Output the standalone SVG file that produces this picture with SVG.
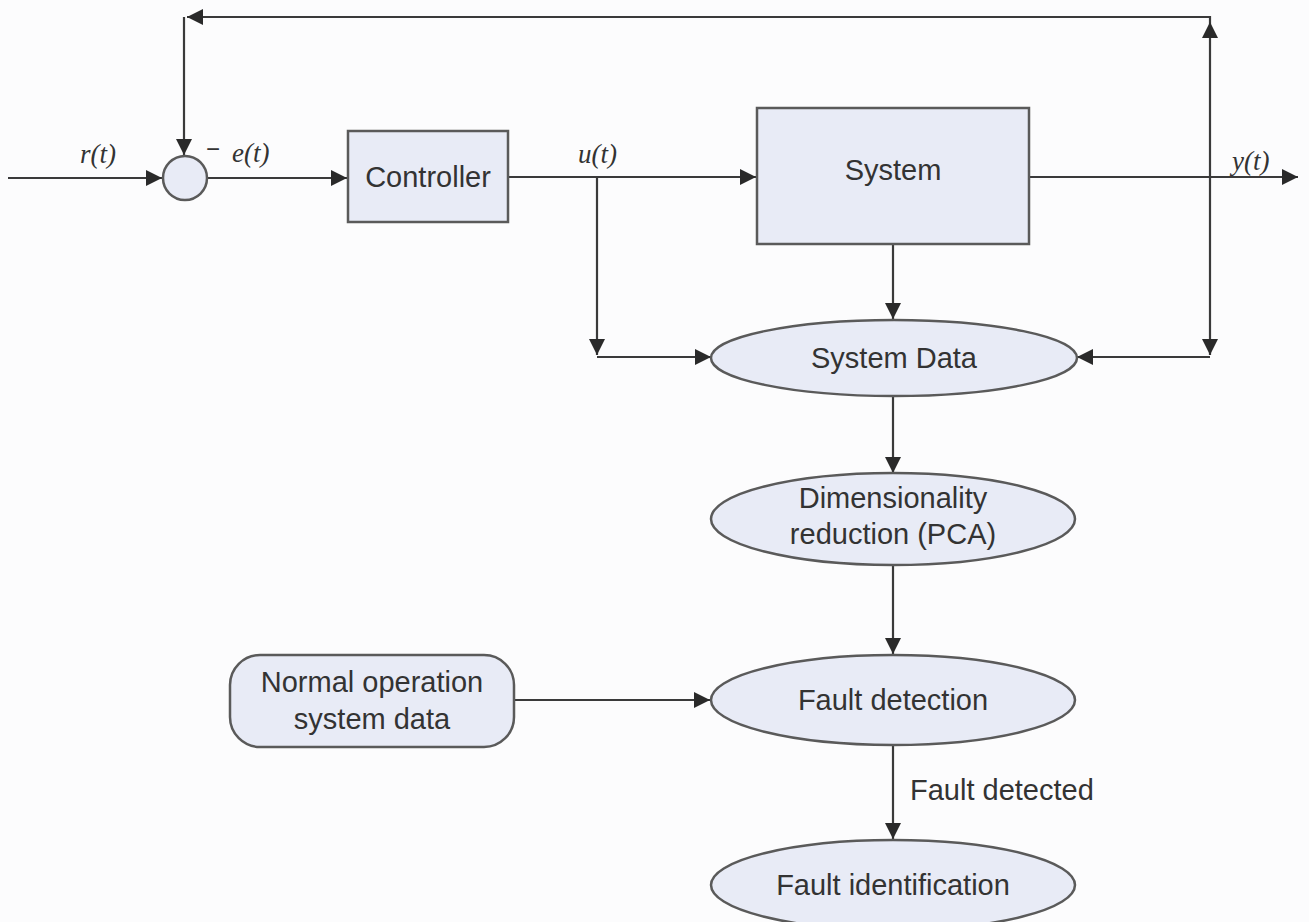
<svg xmlns="http://www.w3.org/2000/svg" width="1309" height="922" viewBox="0 0 1309 922">
<style>
.bg{fill:#fcfcfd}
.box{fill:#e8ebf6;stroke:#5a5a5a;stroke-width:2.5}
.ln{fill:none;stroke:#3a3a3a;stroke-width:2.2}
.t{font-family:"Liberation Sans",Arial,sans-serif;font-size:29px;fill:#333;text-anchor:middle}
.m{font-family:"Liberation Serif","Times New Roman",serif;font-style:italic;font-size:27px;fill:#333}
</style>
<defs>
<marker id="ah" viewBox="0 0 10 10" refX="10" refY="5" markerWidth="16" markerHeight="16" markerUnits="userSpaceOnUse" orient="auto">
<path d="M0,0 L10,5 L0,10 z" fill="#2a2a2a"/>
</marker>
</defs>
<rect class="bg" x="0" y="0" width="1309" height="922"/>
<g id="connectors">
<path class="ln" d="M8,178 H162" marker-end="url(#ah)"/>
<path class="ln" d="M207,178 H347" marker-end="url(#ah)"/>
<path class="ln" d="M508,177 H756" marker-end="url(#ah)"/>
<path class="ln" d="M1029,177 H1298" marker-end="url(#ah)"/>
<path class="ln" d="M1210,177 V22" marker-end="url(#ah)"/>
<path class="ln" d="M1210,22 V17 H187" marker-end="url(#ah)"/>
<path class="ln" d="M184,17 V155" marker-end="url(#ah)"/>
<path class="ln" d="M1210,177 V355" marker-end="url(#ah)"/>
<path class="ln" d="M1210,357 H1077" marker-end="url(#ah)"/>
<path class="ln" d="M597,177 V355" marker-end="url(#ah)"/>
<path class="ln" d="M597,357 H711" marker-end="url(#ah)"/>
<path class="ln" d="M893,244 V319" marker-end="url(#ah)"/>
<path class="ln" d="M893,396 V473" marker-end="url(#ah)"/>
<path class="ln" d="M893,565 V654" marker-end="url(#ah)"/>
<path class="ln" d="M514,700 H710" marker-end="url(#ah)"/>
<path class="ln" d="M893,745 V839" marker-end="url(#ah)"/>
<text class="t" x="910" y="800" style="text-anchor:start">Fault detected</text>
</g>
<g id="labels">
<text class="m" x="80" y="163">r(t)</text>
<text class="m" x="232" y="162">e(t)</text>
<text class="t" x="213" y="157" style="font-size:24px">−</text>
<text class="m" x="578" y="163">u(t)</text>
<text class="m" x="1232" y="170">y(t)</text>
</g>
<g id="sum"><circle class="box" cx="185" cy="178" r="22"/></g>
<g id="controller"><rect class="box" x="348" y="131" width="160" height="91"/><text class="t" x="428" y="187">Controller</text></g>
<g id="system"><rect class="box" x="757" y="108" width="272" height="136"/><text class="t" x="893" y="180">System</text></g>
<g id="systemdata"><ellipse class="box" cx="894" cy="358" rx="183" ry="38"/><text class="t" x="894" y="368">System Data</text></g>
<g id="pca"><ellipse class="box" cx="893" cy="519" rx="182" ry="46"/><text class="t" x="893" y="508">Dimensionality</text><text class="t" x="893" y="544">reduction (PCA)</text></g>
<g id="normal"><rect class="box" x="230" y="655" width="284" height="92" rx="30"/><text class="t" x="372" y="692">Normal operation</text><text class="t" x="372" y="729">system data</text></g>
<g id="faultdet"><ellipse class="box" cx="893" cy="700" rx="182" ry="45"/><text class="t" x="893" y="710">Fault detection</text></g>
<g id="faultid"><ellipse class="box" cx="893" cy="885" rx="182" ry="45"/><text class="t" x="893" y="895">Fault identification</text></g>
</svg>
